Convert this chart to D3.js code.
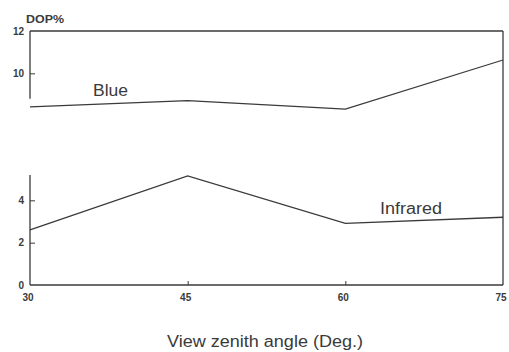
<!DOCTYPE html>
<html>
<head>
<meta charset="utf-8">
<script src="https://cdn.jsdelivr.net/npm/d3@7/dist/d3.min.js"></script>
<style>
html,body{margin:0;padding:0;background:#fff;}
svg{display:block;}
</style>
</head>
<body>
<svg id="chart" width="509" height="352"></svg>
<script>
const angles = [30, 45, 60, 75];
const blueValues = [8.42, 8.71, 8.31, 10.63];
const infraredValues = [2.6, 5.15, 2.91, 3.2];
const yTickValues = [0, 2, 4, 10, 12];
const xTickValues = [30, 45, 60, 75];
const axisBreak = [5.2, 8.8];
const seriesNames = ["Blue", "Infrared"];

const svg = d3.select("#chart");
const ink = "#3a3a3a";
const font = "Liberation Sans, Arial, sans-serif";
const x = d3.scaleLinear().domain([30, 75]).range([30, 503]);
const y = d3.scaleLinear().domain([0, 12]).range([285, 31]);

// frame: top, right
svg.append("line").attr("x1", x(30)).attr("x2", x(75)).attr("y1", y(12)).attr("y2", y(12))
  .attr("stroke", ink).attr("stroke-width", 1.3);
svg.append("line").attr("x1", x(75)).attr("x2", x(75)).attr("y1", y(12)).attr("y2", y(0))
  .attr("stroke", ink).attr("stroke-width", 1.3);

// left axis (broken)
const yAxis = d3.axisRight(y).tickValues(yTickValues).tickSize(5).tickFormat("");
const gy = svg.append("g").attr("transform", `translate(${x(30)},0)`).call(yAxis);
gy.select(".domain").remove();
gy.selectAll(".tick line").attr("stroke", ink).attr("stroke-width", 1);
gy.selectAll(".tick").filter(d => d === 0 || d === 12).select("line").remove();
svg.append("line").attr("x1", x(30)).attr("x2", x(30)).attr("y1", y(12)).attr("y2", y(axisBreak[1]))
  .attr("stroke", ink).attr("stroke-width", 1.3);
svg.append("line").attr("x1", x(30)).attr("x2", x(30)).attr("y1", y(axisBreak[0])).attr("y2", y(0))
  .attr("stroke", ink).attr("stroke-width", 1.3);
svg.append("g").selectAll("text").data(yTickValues).join("text")
  .attr("x", 24).attr("y", d => y(d)).attr("dy", "0.35em")
  .attr("text-anchor", "end")
  .attr("font-family", font)
  .attr("font-size", 10).attr("font-weight", "bold").attr("fill", ink)
  .text(d => d);

// bottom axis
const xAxis = d3.axisTop(x).tickValues(xTickValues).tickSize(4).tickFormat("");
const gx = svg.append("g").attr("transform", `translate(0,${y(0)})`).call(xAxis);
gx.select(".domain").remove();
gx.selectAll(".tick line").attr("stroke", ink).attr("stroke-width", 1);
gx.selectAll(".tick").filter(d => d === 30 || d === 75).select("line").remove();
svg.append("line").attr("x1", x(30)).attr("x2", x(75)).attr("y1", y(0)).attr("y2", y(0))
  .attr("stroke", ink).attr("stroke-width", 1.3);
svg.append("g").selectAll("text").data(xTickValues).join("text")
  .attr("x", d => x(d) - 2).attr("y", y(0) + 16)
  .attr("text-anchor", "middle")
  .attr("font-family", font)
  .attr("font-size", 10).attr("font-weight", "bold").attr("fill", ink)
  .text(d => d);

// y unit
svg.append("text").attr("x", 26).attr("y", 23)
  .attr("font-family", font)
  .attr("font-size", 11).attr("font-weight", "bold").attr("fill", ink)
  .attr("textLength", 38).attr("lengthAdjust", "spacingAndGlyphs")
  .text("DOP%");

// x title
svg.append("text").attr("x", 167).attr("y", 347)
  .attr("font-family", font)
  .attr("font-size", 16).attr("fill", ink)
  .attr("textLength", 196).attr("lengthAdjust", "spacingAndGlyphs")
  .text("View zenith angle (Deg.)");

// lines
const line = d3.line().x((d, i) => x(angles[i])).y(d => y(d));
[blueValues, infraredValues].forEach(vals => {
  svg.append("path").datum(vals).attr("d", line)
    .attr("fill", "none").attr("stroke", ink).attr("stroke-width", 1.3);
});

// series labels
svg.append("text").attr("x", 93).attr("y", 96)
  .attr("font-family", font)
  .attr("font-size", 16).attr("fill", ink)
  .attr("textLength", 35).attr("lengthAdjust", "spacingAndGlyphs")
  .text(seriesNames[0]);
svg.append("text").attr("x", 380).attr("y", 214)
  .attr("font-family", font)
  .attr("font-size", 16).attr("fill", ink)
  .attr("textLength", 62).attr("lengthAdjust", "spacingAndGlyphs")
  .text(seriesNames[1]);
</script>
</body>
</html>
